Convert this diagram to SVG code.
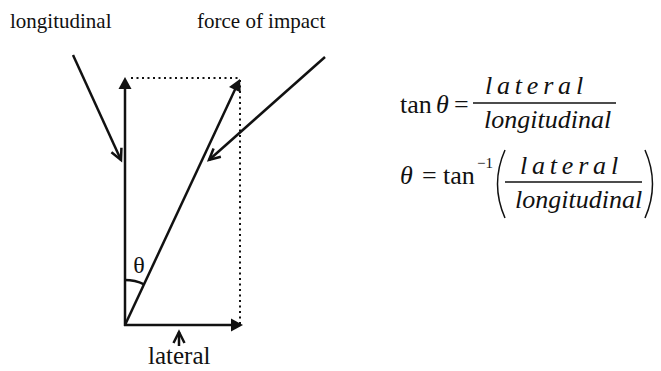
<svg xmlns="http://www.w3.org/2000/svg" width="661" height="371" viewBox="0 0 661 371">
<style>
.t{font-family:"Liberation Serif","Times New Roman",Times,serif;fill:#111}
.lbl{font-size:21px}
.eq{font-size:26px}
.it{font-style:italic}
.ln{stroke:#111;stroke-width:2.5;fill:none}
.dot{stroke:#111;stroke-width:2;stroke-dasharray:2 3.5;fill:none}
.frac{stroke:#111;stroke-width:1.3}
.par{fill:none;stroke:#111;stroke-width:1.5}
</style>
<defs>
<marker id="tri" markerUnits="userSpaceOnUse" markerWidth="14" markerHeight="14" refX="5" refY="6.5" orient="auto" overflow="visible">
<path d="M0,0 L12,6.5 L0,13 z" fill="#111"/>
</marker>
<marker id="chev" markerUnits="userSpaceOnUse" markerWidth="14" markerHeight="14" refX="11" refY="5.5" orient="auto" overflow="visible">
<polyline points="0,0 11,5.5 0,11" fill="none" stroke="#111" stroke-width="2.5"/>
</marker>
</defs>
<g id="labels">
<text class="t lbl" x="10" y="28">longitudinal</text>
<text class="t lbl" x="197" y="28">force of impact</text>
<text class="t" x="139" y="273" font-size="24" text-anchor="middle">θ</text>
<text class="t" x="148" y="364" font-size="25">lateral</text>
</g>
<g id="rect">
<line class="dot" x1="131" y1="78" x2="240" y2="78"/>
<line class="dot" x1="240" y1="80" x2="240" y2="325"/>
</g>
<g id="connectors">
<line class="ln" x1="125" y1="326" x2="125" y2="84" marker-end="url(#tri)"/>
<line class="ln" x1="124" y1="325" x2="236" y2="325" marker-end="url(#tri)"/>
<line class="ln" x1="125" y1="325" x2="237" y2="85.3" marker-end="url(#tri)"/>
<line class="ln" x1="73" y1="55" x2="121" y2="160" marker-end="url(#chev)"/>
<line class="ln" x1="325" y1="57" x2="209" y2="160" marker-end="url(#chev)"/>
<line class="ln" x1="179" y1="346" x2="179" y2="332" marker-end="url(#chev)"/>
<path class="ln" d="M125,280 A45,45 0 0 1 144.1,284.3" stroke-width="2"/>
</g>
<g id="eq1">
<text class="t eq" x="400" y="113">tan</text>
<text class="t eq it" x="436" y="113">θ</text>
<text class="t eq" x="454" y="113">=</text>
<text class="t eq it" x="485" y="94" letter-spacing="4.8">lateral</text>
<line class="frac" x1="473" y1="103" x2="616" y2="103"/>
<text class="t eq it" x="484" y="128">longitudinal</text>
</g>
<g id="eq2">
<text class="t eq it" x="400" y="184">θ</text>
<text class="t eq" x="422" y="184">=</text>
<text class="t eq" x="443" y="184">tan</text>
<text class="t" x="477" y="168" font-size="15">−1</text>
<path class="par" d="M505,150 Q490,184 505,218"/>
<text class="t eq it" x="520" y="174" letter-spacing="4.8">lateral</text>
<line class="frac" x1="505" y1="182" x2="642" y2="182"/>
<text class="t eq it" x="515" y="208">longitudinal</text>
<path class="par" d="M645,150 Q660,184 645,218"/>
</g>
</svg>
